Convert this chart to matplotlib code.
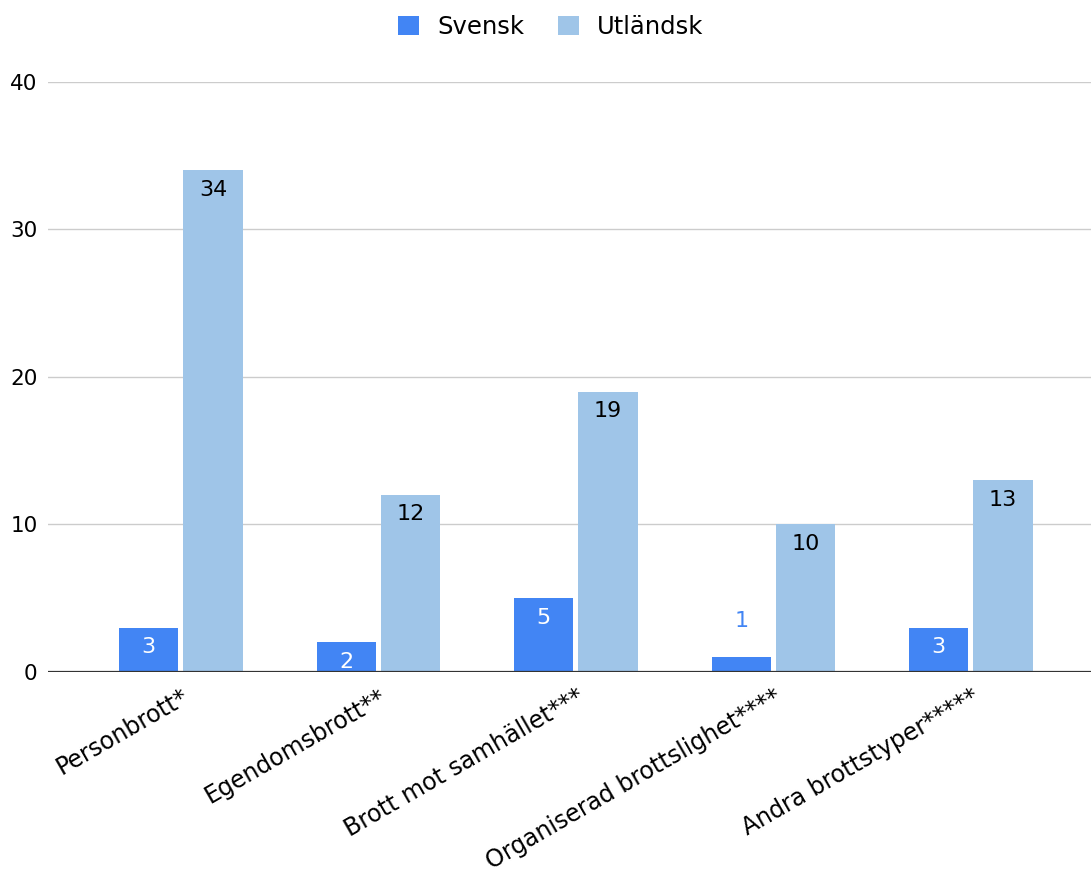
import numpy as np
import matplotlib.pyplot as plt

# data
categories = ['Personbrott*', 'Egendomsbrott**', 'Brott mot samhället***',
              'Organiserad brottslighet****', 'Andra brottstyper*****']
svensk = [3, 2, 5, 1, 3]
utlandsk = [34, 12, 19, 10, 13]
yticks = [0, 10, 20, 30, 40]

c_sv = '#4285F4'
c_ut = '#9FC5E8'

plt.rcParams['font.family'] = ['DejaVu Sans']

fig = plt.figure(figsize=(10.91, 8.75), dpi=100)
ax = fig.add_axes([0.044, 0.232, 0.956, 0.6743])

x = np.arange(len(categories))
w = 0.30
off = 0.163
b1 = ax.bar(x - off, svensk, w, color=c_sv, label='Svensk', zorder=3)
b2 = ax.bar(x + off, utlandsk, w, color=c_ut, label='Utländsk', zorder=3)

# etiketter på staplarna
for xi, v in zip(x, svensk):
    if v >= 2:
        ax.annotate(str(v), (xi - off, v), xytext=(0, -14), textcoords='offset points',
                    ha='center', va='center', color='white', fontsize=16, zorder=4)
    else:
        ax.annotate(str(v), (xi - off, v), xytext=(0, 26), textcoords='offset points',
                    ha='center', va='center', color=c_sv, fontsize=16, zorder=4)
for xi, v in zip(x, utlandsk):
    ax.annotate(str(v), (xi + off, v), xytext=(0, -14), textcoords='offset points',
                ha='center', va='center', color='black', fontsize=16, zorder=4)

ax.set_xlim(-0.673, 4.608)
ax.set_ylim(0, 40)
ax.set_yticks(yticks)
ax.set_yticklabels([str(t) for t in yticks], fontsize=15.5)
ax.grid(axis='y', color='#cccccc', lw=1, zorder=0)
ax.axhline(0, color='#333333', lw=1.6, zorder=5)
for s in ax.spines.values():
    s.set_visible(False)
ax.tick_params(axis='both', length=0)
ax.tick_params(axis='y', pad=7.5)
ax.set_xticks(x)
ax.set_xticklabels(categories, rotation=30, ha='right', rotation_mode='anchor', fontsize=17)
ax.tick_params(axis='x', pad=9)

fig.legend(handles=[b1, b2], loc='upper center', bbox_to_anchor=(0.505, 1.008), ncol=2,
           frameon=False, fontsize=17.5, handlelength=0.85, handleheight=0.85,
           handletextpad=0.75, columnspacing=1.4)

fig.savefig('out.png', dpi=100)
